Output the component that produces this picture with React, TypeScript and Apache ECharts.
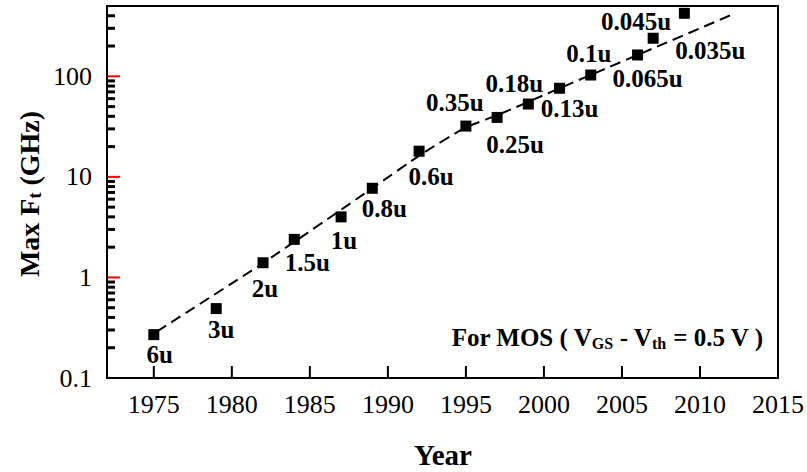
import React, { useEffect, useRef } from 'react';
import * as echarts from 'echarts';

// Measured peak transit frequency per technology node
const years = [1975, 1979, 1982, 1984, 1987, 1989, 1992, 1995, 1997, 1999, 2001, 2003, 2006, 2007, 2009];
const maxFt = [0.27, 0.49, 1.4, 2.39, 4.0, 7.7, 18, 32, 39, 53, 76, 103, 163, 239, 423];
const nodes = ['6u', '3u', '2u', '1.5u', '1u', '0.8u', '0.6u', '0.35u', '0.25u', '0.18u', '0.13u', '0.1u', '0.065u', '0.045u', '0.035u'];

// Dashed trend curve
const trendYears = [1975.2, 1982, 1989, 1992.2, 1995, 1997, 2001, 2006, 2012.2];
const trendFt = [0.29, 1.39, 7.7, 17, 31, 41, 76, 163, 420];

// Axis ticks
const xTicks = [1975, 1980, 1985, 1990, 1995, 2000, 2005, 2010, 2015];
const yMajorTicks = [0.1, 1, 10, 100];
const yMinorTicks = [
  0.2, 0.3, 0.4, 0.5, 0.6, 0.7, 0.8, 0.9,
  2, 3, 4, 5, 6, 7, 8, 9,
  20, 30, 40, 50, 60, 70, 80, 90,
  200, 300, 400,
];

const X_MIN = 1972;
const X_MAX = 2015;
const Y_MIN = 0.1;
const Y_MAX = 500;

// Where each node label sits relative to its marker (px)
const labelOffsets: [number, number][] = [
  [6, 20], [5, 21], [2, 26], [13, 23], [3, 24], [12, 20], [12, 25],
  [-11, -24], [18, 27], [-14, -21], [10, 20], [-2, -22], [10, 24], [-17, -17], [26, 37],
];

const SERIF = 'Liberation Serif';

export default function App() {
  const ref = useRef<HTMLDivElement>(null);

  useEffect(() => {
    if (!ref.current) return;
    const chart = echarts.init(ref.current, undefined, { renderer: 'svg' });

    const points = years.map((y, i) => ({
      value: [y, maxFt[i]],
      label: { formatter: nodes[i], offset: labelOffsets[i] },
    }));
    const trend = trendYears.map((y, i) => [y, trendFt[i]]);

    chart.setOption({
      animation: false,
      grid: {
        left: 107, right: 28, top: 6, bottom: 94,
        show: true, borderColor: '#000', borderWidth: 2,
      },
      xAxis: {
        type: 'value',
        min: X_MIN,
        max: X_MAX,
        axisLine: { show: true, onZero: false, lineStyle: { color: '#000', width: 2 } },
        axisTick: { show: false },
        axisLabel: {
          show: true, customValues: xTicks, color: '#000', fontSize: 26, fontFamily: SERIF, margin: 13,
          formatter: (v: number) => String(v),
        },
        splitLine: { show: false },
      },
      yAxis: {
        type: 'log',
        logBase: 10,
        min: Y_MIN,
        max: Y_MAX,
        axisLine: { show: true, onZero: false, lineStyle: { color: '#000', width: 2 } },
        axisTick: { show: false },
        axisLabel: {
          show: true, color: '#000', fontSize: 26, fontFamily: SERIF, margin: 15,
          showMaxLabel: false,
          formatter: (v: number) => {
            const hit = yMajorTicks.find((t) => Math.abs(t - v) / t < 1e-6);
            return hit !== undefined ? String(hit) : '';
          },
        },
        splitLine: { show: false },
        minorTick: { show: false },
      },
      series: [
        {
          type: 'line',
          data: trend,
          symbol: 'none',
          smooth: 0.2,
          silent: true,
          lineStyle: { color: '#000', width: 2, type: [11, 6], opacity: 1 },
          z: 1,
        },
        {
          type: 'scatter',
          data: points,
          symbol: 'rect',
          symbolSize: 11,
          itemStyle: { color: '#000', opacity: 1 },
          label: {
            show: true,
            position: 'inside',
            color: '#000',
            fontFamily: SERIF,
            fontWeight: 'bold',
            fontSize: 25,
          },
          z: 3,
        },
      ],
    });

    // Inward tick stubs placed through the grid's coordinate conversion
    const toPx = (x: number, y: number) => chart.convertToPixel({ gridIndex: 0 }, [x, y]) as number[];
    const tickRects: any[] = [];
    xTicks.forEach((v) => {
      const p = toPx(v, Y_MIN);
      tickRects.push({ type: 'rect', shape: { x: p[0] - 1, y: p[1] - 12, width: 2, height: 12 }, style: { fill: '#000' } });
    });
    yMajorTicks.forEach((v) => {
      const p = toPx(X_MIN, v);
      tickRects.push({ type: 'rect', shape: { x: p[0], y: p[1] - 1, width: 13, height: 2 }, style: { fill: 'red' } });
    });
    yMinorTicks.forEach((v) => {
      const p = toPx(X_MIN, v);
      tickRects.push({ type: 'rect', shape: { x: p[0], y: p[1] - 1.5, width: 8, height: 3 }, style: { fill: '#000' } });
    });

    chart.setOption({
      graphic: [
        ...tickRects,
        {
          type: 'text',
          x: 443,
          y: 455,
          style: {
            text: 'Year', fill: '#000', font: `bold 29px ${SERIF}`,
            align: 'center', verticalAlign: 'middle',
          },
        },
        {
          type: 'text',
          x: 29,
          y: 194,
          rotation: Math.PI / 2,
          style: {
            text: '{a|Max F}{s|t}{a| (GHz)}',
            fill: '#000',
            align: 'center',
            verticalAlign: 'middle',
            rich: {
              a: { fontFamily: SERIF, fontWeight: 'bold', fontSize: 28, lineHeight: 30, fill: '#000' },
              s: { fontFamily: SERIF, fontWeight: 'bold', fontSize: 18, lineHeight: 14, verticalAlign: 'bottom', fill: '#000' },
            },
          },
        },
        {
          type: 'text',
          x: 763,
          y: 337,
          style: {
            text: '{a|For MOS ( V}{s|GS}{a| - V}{s|th}{a| = 0.5 V )}',
            fill: '#000',
            align: 'right',
            verticalAlign: 'middle',
            rich: {
              a: { fontFamily: SERIF, fontWeight: 'bold', fontSize: 25, lineHeight: 28, fill: '#000' },
              s: { fontFamily: SERIF, fontWeight: 'bold', fontSize: 16, lineHeight: 13, verticalAlign: 'bottom', fill: '#000' },
            },
          },
        },
      ],
    });

    return () => chart.dispose();
  }, []);

  return (
    <div
      ref={ref}
      style={{ position: 'fixed', left: 0, top: 0, width: 807, height: 472, background: '#fff' }}
    />
  );
}
